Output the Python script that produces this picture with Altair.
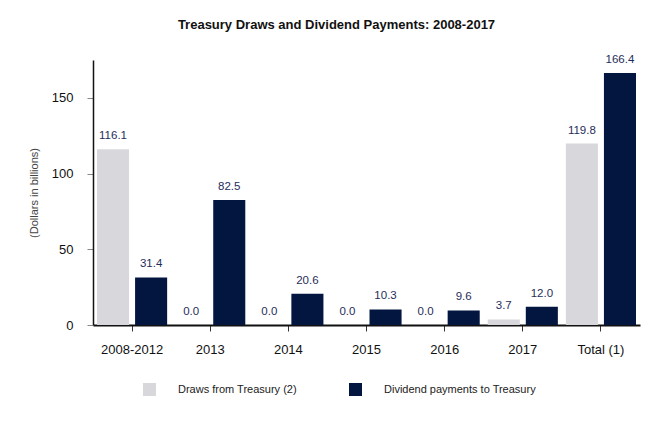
import pandas as pd
import altair as alt

categories = ["2008-2012", "2013", "2014", "2015", "2016", "2017", "Total (1)"]
draws = [116.1, 0.0, 0.0, 0.0, 0.0, 3.7, 119.8]
dividends = [31.4, 82.5, 20.6, 10.3, 9.6, 12.0, 166.4]
series = ["Draws from Treasury (2)", "Dividend payments to Treasury"]
colors = ["#d8d7dc", "#02163f"]

rows = []
for cat, d, v in zip(categories, draws, dividends):
    rows.append({"period": cat, "series": series[0], "value": d})
    rows.append({"period": cat, "series": series[1], "value": v})
df = pd.DataFrame(rows)

FONT = "Liberation Sans"

base = alt.Chart(df).encode(
    x=alt.X("period:N", sort=categories, title=None,
            scale=alt.Scale(paddingInner=0, paddingOuter=0),
            axis=alt.Axis(labelAngle=0, labelFontSize=13, labelColor="#111",
                          labelPadding=12, tickSize=6, tickColor="#333",
                          domainColor="#111", domainWidth=2, labelFont=FONT)),
    xOffset=alt.XOffset("series:N", sort=series,
                        scale=alt.Scale(paddingInner=0.158, paddingOuter=0.105)),
)

bars = base.mark_bar().encode(
    y=alt.Y("value:Q", title="(Dollars in billions)",
            scale=alt.Scale(domain=[0, 175], nice=False),
            axis=alt.Axis(values=[0, 50, 100, 150], grid=False, labelFontSize=13,
                          labelColor="#111", labelPadding=14, tickSize=6,
                          tickColor="#888", domainColor="#111", domainWidth=1.5,
                          titleFontSize=11, titleFontWeight="normal",
                          titleColor="#444", titlePadding=12, labelFont=FONT,
                          titleFont=FONT)),
    color=alt.Color("series:N", sort=series,
                    scale=alt.Scale(domain=series, range=colors),
                    legend=alt.Legend(title=None, orient="none", legendX=50,
                                      legendY=323, direction="horizontal",
                                      symbolType="square", symbolSize=169,
                                      symbolStrokeWidth=0, labelFontSize=11,
                                      labelOffset=22, columnPadding=52,
                                      labelColor="#222", labelFont=FONT)),
)

labels = base.mark_text(baseline="bottom", dy=-8, fontSize=11.5, color="#1f2d5a",
                        font=FONT).encode(
    y="value:Q",
    text=alt.Text("value:Q", format=".1f"),
)

chart = (bars + labels).properties(
    width=547,
    height=265,
    padding={"left": 20, "top": 11, "right": 10, "bottom": 5},
    title=alt.TitleParams("Treasury Draws and Dividend Payments: 2008-2017",
                          fontSize=13, fontWeight="bold", font=FONT,
                          color="#111", anchor="middle", dx=-30, offset=22),
).configure_view(stroke=None)

chart.save("out.html", embed_options={"renderer": "svg", "actions": False})
